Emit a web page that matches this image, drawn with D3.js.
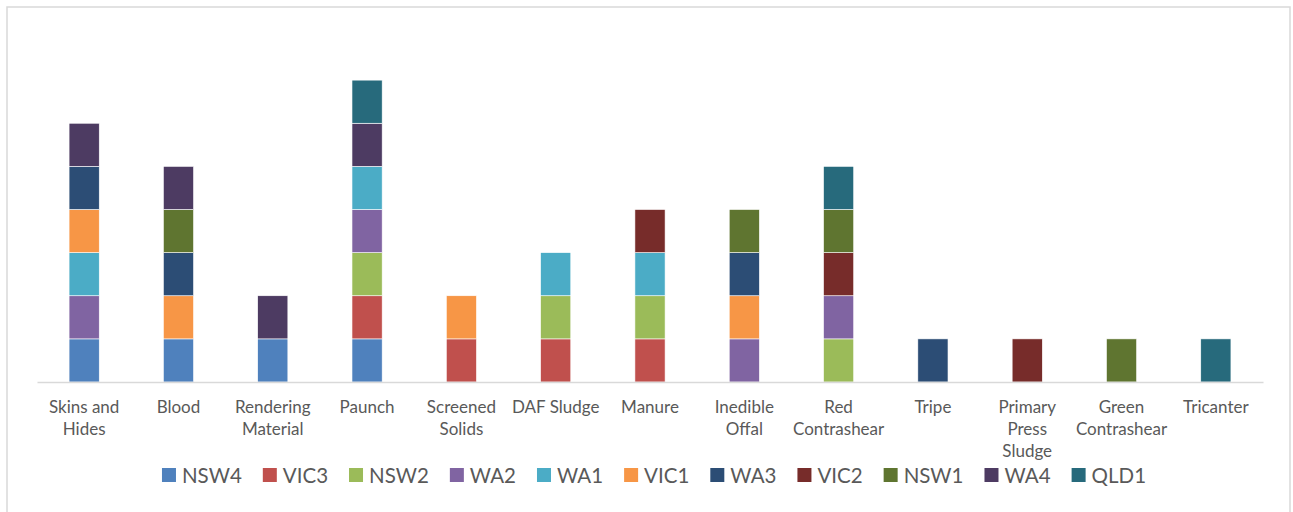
<!DOCTYPE html>
<html>
<head>
<meta charset="utf-8">
<script src="https://cdn.jsdelivr.net/npm/d3@7"></script>
<style>
  body { margin: 0; background: #fff; }
  text { font-family: Lato, "Open Sans", sans-serif; fill: #595959; }
</style>
</head>
<body>
<div id="chart"></div>
<script>
// categories (line breaks as in the original axis labels)
const categories = ["Skins and\nHides", "Blood", "Rendering\nMaterial", "Paunch", "Screened\nSolids",
  "DAF Sludge", "Manure", "Inedible\nOffal", "Red\nContrashear", "Tripe", "Primary\nPress\nSludge",
  "Green\nContrashear", "Tricanter"];
const seriesNames = ["NSW4", "VIC3", "NSW2", "WA2", "WA1", "VIC1", "WA3", "VIC2", "NSW1", "WA4", "QLD1"];
const seriesColors = ["#4F81BD", "#C0504D", "#9BBB59", "#8064A2", "#4BACC6", "#F79646",
  "#2C4D75", "#772C2A", "#5F7530", "#4D3B62", "#276A7C"];

// one value per category, per series
const NSW4 = [1, 1, 1, 1, 0, 0, 0, 0, 0, 0, 0, 0, 0];
const VIC3 = [0, 0, 0, 1, 1, 1, 1, 0, 0, 0, 0, 0, 0];
const NSW2 = [0, 0, 0, 1, 0, 1, 1, 0, 1, 0, 0, 0, 0];
const WA2  = [1, 0, 0, 1, 0, 0, 0, 1, 1, 0, 0, 0, 0];
const WA1  = [1, 0, 0, 1, 0, 1, 1, 0, 0, 0, 0, 0, 0];
const VIC1 = [1, 1, 0, 0, 1, 0, 0, 1, 0, 0, 0, 0, 0];
const WA3  = [1, 1, 0, 0, 0, 0, 0, 1, 0, 1, 0, 0, 0];
const VIC2 = [0, 0, 0, 0, 0, 0, 1, 0, 1, 0, 1, 0, 0];
const NSW1 = [0, 1, 0, 0, 0, 0, 0, 1, 1, 0, 0, 1, 0];
const WA4  = [1, 1, 1, 1, 0, 0, 0, 0, 0, 0, 0, 0, 0];
const QLD1 = [0, 0, 0, 1, 0, 0, 0, 0, 1, 0, 0, 0, 1];
const seriesValues = [NSW4, VIC3, NSW2, WA2, WA1, VIC1, WA3, VIC2, NSW1, WA4, QLD1];

const width = 1293, height = 512;
const plot = { left: 37, right: 1263, top: 37, bottom: 382 };

const svg = d3.select("#chart").append("svg")
  .attr("width", width)
  .attr("height", height);

// chart frame
svg.append("rect")
  .attr("x", 7).attr("y", 7)
  .attr("width", 1283).attr("height", 520)
  .attr("fill", "none")
  .attr("stroke", "#d9d9d9")
  .attr("stroke-width", 1.5);

const rows = categories.map((c, i) => {
  const r = { cat: c };
  seriesNames.forEach((s, j) => r[s] = seriesValues[j][i]);
  return r;
});
const stacked = d3.stack().keys(seriesNames)(rows);

const x = d3.scaleBand()
  .domain(categories)
  .range([plot.left, plot.right])
  .paddingInner(0.68)
  .paddingOuter(0.34);

const y = d3.scaleLinear()
  .domain([0, 8])
  .range([plot.bottom, plot.top]);

const color = d3.scaleOrdinal().domain(seriesNames).range(seriesColors);

svg.append("g")
  .selectAll("g")
  .data(stacked)
  .join("g")
  .attr("fill", d => color(d.key))
  .selectAll("rect")
  .data(d => d.filter(p => p[1] > p[0]))
  .join("rect")
  .attr("x", d => x(d.data.cat))
  .attr("y", d => y(d[1]))
  .attr("width", x.bandwidth())
  .attr("height", d => y(d[0]) - y(d[1]))
  .attr("stroke", "#fff")
  .attr("stroke-width", 0.6);

// x axis
const xAxis = svg.append("g")
  .attr("transform", `translate(0,${plot.bottom})`)
  .call(d3.axisBottom(x).tickSize(0).tickFormat(""));
xAxis.select(".domain").attr("stroke", "#d9d9d9").attr("stroke-width", 1.5);

const labels = svg.append("g")
  .selectAll("text")
  .data(categories)
  .join("text")
  .attr("x", d => x(d) + x.bandwidth() / 2)
  .attr("y", 413)
  .attr("text-anchor", "middle")
  .style("font-size", "17px");
labels.selectAll("tspan")
  .data(d => d.split("\n"))
  .join("tspan")
  .attr("x", function () { return d3.select(this.parentNode).attr("x"); })
  .attr("dy", (d, i) => i === 0 ? 0 : 22)
  .text(d => d);

// legend
const legend = svg.append("g");
const items = legend.selectAll("g")
  .data(seriesNames)
  .join("g");
items.append("rect")
  .attr("width", 14).attr("height", 14)
  .attr("y", 468)
  .attr("fill", d => color(d));
items.append("text")
  .attr("x", 20)
  .attr("y", 483)
  .style("font-size", "20.5px")
  .text(d => d);

let offset = 0;
const gap = 21;
const positions = [];
items.each(function () {
  const w = this.querySelector("text").getComputedTextLength();
  positions.push(offset);
  offset += 20 + w + gap;
});
const total = offset - gap;
const start = (plot.left + plot.right) / 2 - total / 2 + 4;
items.attr("transform", (d, i) => `translate(${start + positions[i]},0)`);
</script>
</body>
</html>
